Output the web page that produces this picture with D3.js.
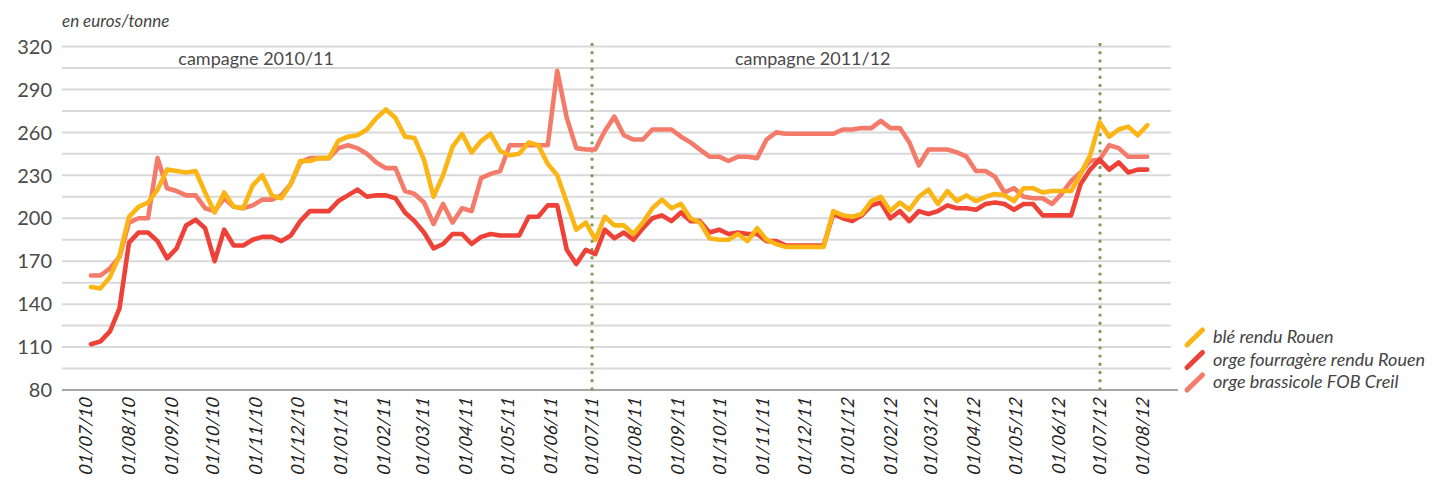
<!DOCTYPE html>
<html><head><meta charset="utf-8">
<script src="https://cdn.jsdelivr.net/npm/d3@7"></script>
<style>body{margin:0;background:#fff}svg{display:block}</style>
</head><body>
<svg id="c" width="1435" height="482"></svg>
<script>
// ---- data ----
const xTickLabels = ["01/07/10","01/08/10","01/09/10","01/10/10","01/11/10","01/12/10",
  "01/01/11","01/02/11","01/03/11","01/04/11","01/05/11","01/06/11","01/07/11","01/08/11",
  "01/09/11","01/10/11","01/11/11","01/12/11","01/01/12","01/02/12","01/03/12","01/04/12",
  "01/05/12","01/06/12","01/07/12","01/08/12"];
const yGrid = [80,95,110,125,140,155,170,185,200,215,230,245,260,275,290,305,320];
const yLabels = [80,110,140,170,200,230,260,290,320];
const campaignLines = ["01/07/11","01/07/12"];
const campaignNames = ["campagne 2010/11","campagne 2011/12"];
const campaignLabelDates = ["01/11/10","07/12/11"];
const firstQuote = "05/07/10", lastQuote = "04/08/12";
const seriesNames = ["blé rendu Rouen","orge fourragère rendu Rouen","orge brassicole FOB Creil"];
const seriesColors = ["#FBB514","#EE4138","#F47B6A"];
const unitLabel = "en euros/tonne";

const ble = [152,151,159,174,201,208,211,220,234,233,232,233,218,204,218,208,207,223,230,
  216,214,224,240,240,242,242,254,257,258,262,270,276,270,257,256,241,215,230,
  250,259,246,254,259,247,244,245,253,251,238,230,211,192,197,185,201,195,195,
  189,197,207,213,207,210,200,197,186,185,185,189,184,193,185,182,180,180,180,
  180,180,205,202,201,203,212,215,205,211,206,215,220,210,219,212,216,212,215,
  217,216,212,221,221,218,219,219,219,231,244,267,257,262,264,258,265];
const orgeFourragere = [112,114,121,137,183,190,190,184,172,179,195,199,193,170,192,181,181,185,187,
  187,184,188,198,205,205,205,212,216,220,215,216,216,214,204,198,190,179,182,
  189,189,182,187,189,188,188,188,201,201,209,209,178,168,178,175,192,186,190,
  185,193,200,202,198,204,198,198,190,192,189,190,189,189,184,184,181,181,181,
  181,181,203,200,198,202,209,211,200,205,198,205,203,205,209,207,207,206,210,
  211,210,206,210,210,202,202,202,202,224,234,241,234,239,232,234,234];
const orgeBrassicole = [160,160,165,173,197,200,200,242,221,219,216,216,207,205,214,208,207,209,213,
  213,216,224,239,242,242,242,249,251,249,245,239,235,235,219,217,211,196,210,
  197,207,205,228,231,233,251,251,251,251,251,303,270,249,248,248,261,271,258,
  255,255,262,262,262,257,253,248,243,243,240,243,243,242,255,260,259,259,259,
  259,259,259,262,262,263,263,268,263,263,253,237,248,248,248,246,243,233,233,
  229,218,221,215,214,214,210,217,226,232,240,241,251,249,243,243,243];
const seriesData = [ble, orgeFourragere, orgeBrassicole];

// ---- chart ----
const parse = d3.timeParse("%d/%m/%y");
const svg = d3.select("#c");
const plotLeft = 62, plotRight = 1171, axisRight = 1178;
const x = d3.scaleTime()
  .domain([parse(xTickLabels[0]), parse(xTickLabels[xTickLabels.length-1])])
  .range([85.4, 1143.1]);
const y = d3.scaleLinear().domain([80,320]).range([390,46.5]);
const xi = d3.scaleLinear().domain([0, ble.length-1]).range([x(parse(firstQuote)), x(parse(lastQuote))]);

const font = "Lato, 'Open Sans', sans-serif";

// gridlines
svg.append("g").selectAll("line").data(yGrid.filter(v=>v>80)).join("line")
  .attr("x1",plotLeft).attr("x2",plotRight)
  .attr("y1",d=>y(d)).attr("y2",d=>y(d))
  .attr("stroke","#d9d9d9").attr("stroke-width",2);
// axis line
svg.append("line").attr("x1",plotLeft).attr("x2",axisRight)
  .attr("y1",y(80)).attr("y2",y(80)).attr("stroke","#a6a6a6").attr("stroke-width",2);

// y labels
svg.append("g").selectAll("text").data(yLabels).join("text")
  .attr("x",52).attr("y",d=>y(d)).attr("dy","0.36em")
  .attr("text-anchor","end").attr("font-family",font).attr("font-weight",400)
  .attr("font-size",20).attr("fill","#4a4a4a").text(d=>d);

// unit label
svg.append("text").attr("x",62).attr("y",27).attr("font-family",font)
  .attr("font-style","italic").attr("font-weight",400).attr("font-size",17).attr("fill","#444")
  .text(unitLabel);

// x tick labels
svg.append("g").selectAll("text").data(xTickLabels).join("text")
  .attr("transform",d=>`translate(${x(parse(d))},397) rotate(-90) skewX(-8)`)
  .attr("dy","0.35em").attr("text-anchor","end")
  .attr("font-family",font).attr("font-style","italic").attr("font-weight",400)
  .attr("font-size",18).attr("fill","#222").text(d=>d);

// campaign dotted lines
svg.append("g").selectAll("line").data(campaignLines).join("line")
  .attr("x1",d=>x(parse(d))).attr("x2",d=>x(parse(d)))
  .attr("y1",y(320)-2).attr("y2",y(80)+1)
  .attr("stroke","#7E9F5C").attr("stroke-width",3.4)
  .attr("stroke-linecap","round").attr("stroke-dasharray","0 8.2");

// campaign labels
svg.append("g").selectAll("text").data(campaignNames).join("text")
  .attr("x",(d,i)=>x(parse(campaignLabelDates[i]))).attr("y",65)
  .attr("text-anchor","middle").attr("font-family",font).attr("font-weight",400)
  .attr("font-size",18).attr("fill","#4a4a4a").text(d=>d);

// series lines (draw order: brassicole, fourragère, blé)
const line = d3.line().x((d,i)=>xi(i)).y(d=>y(d));
[2,1,0].forEach(k=>{
  svg.append("path").datum(seriesData[k]).attr("d",line)
    .attr("fill","none").attr("stroke",seriesColors[k]).attr("stroke-width",4.6)
    .attr("stroke-linejoin","round").attr("stroke-linecap","round");
});

// legend
const lg = svg.append("g").attr("transform","translate(1187,345)");
seriesNames.forEach((n,i)=>{
  const g = lg.append("g").attr("transform",`translate(0,${i*22.5})`);
  g.append("line").attr("x1",0).attr("y1",0).attr("x2",15.5).attr("y2",-15)
    .attr("stroke",seriesColors[i]).attr("stroke-width",5).attr("stroke-linecap","round");
  g.append("text").attr("x",26).attr("y",-2).attr("font-family",font)
    .attr("font-style","italic").attr("font-weight",400).attr("font-size",18)
    .attr("fill","#444").text(n);
});
</script></body></html>
